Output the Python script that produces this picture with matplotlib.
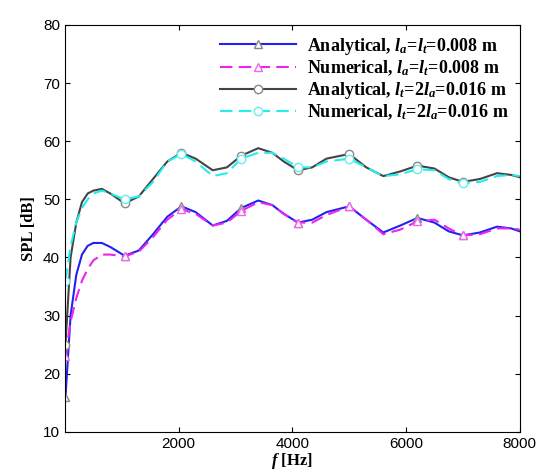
import matplotlib
matplotlib.use("Agg")
import matplotlib.pyplot as plt

freq = [10,100,200,300,400,500,650,800,1050,1300,1550,1800,2050,2300,2600,2850,3100,3400,3650,3850,4100,4350,4600,5000,5300,5600,5900,6200,6500,6750,7000,7300,7600,7850,8000]
ana1 = [16,30,37,40.5,42,42.5,42.5,41.8,40.3,41.2,44,47,48.8,47.8,45.5,46.3,48.5,49.8,49,47.5,46,46.5,47.8,48.8,46.5,44.3,45.5,46.8,46,44.5,43.8,44.3,45.3,45,44.5]
num1 = [23,29,33,36,38,39.5,40.5,40.5,40.2,41,43.5,46.5,48.3,47.5,45.5,46,48,49.5,49,47.5,46,46,47.3,48.8,46.5,44,44.8,46.2,46.5,45,43.8,44,45,45,44.8]
ana2 = [25,40,46,49.5,51,51.5,51.8,51,49.3,50.5,53.5,56.5,58,57,55,55.5,57.5,58.8,58,56.5,55,55.5,57,57.8,55.5,54,54.8,55.8,55.3,53.8,53,53.5,54.5,54.2,53.8]
num2 = [36,42,46,48.5,50,51,51.5,51,50,50.5,53,56.5,57.8,56.5,54,54.5,57,58,58,57,55.5,55.5,56.5,57,55.5,54,54.3,55.2,55,53.5,52.8,53,54,54.2,54]
labels = [r"Analytical, $\boldsymbol{l_a}$=$\boldsymbol{l_t}$=0.008 m",
          r"Numerical, $\boldsymbol{l_a}$=$\boldsymbol{l_t}$=0.008 m",
          r"Analytical, $\boldsymbol{l_t}$=2$\boldsymbol{l_a}$=0.016 m",
          r"Numerical, $\boldsymbol{l_t}$=2$\boldsymbol{l_a}$=0.016 m"]
marks = [0,8,12,16,20,23,27,30]

plt.rcParams['mathtext.fontset'] = 'custom'
plt.rcParams['mathtext.it'] = 'Liberation Serif:italic:bold'
plt.rcParams['mathtext.bf'] = 'Liberation Serif:italic:bold'
plt.rcParams['mathtext.rm'] = 'Liberation Serif:bold'

fig = plt.figure(figsize=(5.5,4.7), dpi=100)
ax = fig.add_axes([0.118, 0.081, 0.827, 0.866])
ax.plot(freq, ana1, '-', color='#2222ee', lw=1.5, marker='^', mfc='white', mec='#888888', ms=6, markevery=marks, label=labels[0])
ax.plot(freq, num1, '--', color='#ee22ee', lw=1.5, dashes=(6,3), marker='^', mfc='white', mec='#ee66ee', ms=6, markevery=marks, label=labels[1])
ax.plot(freq, ana2, '-', color='#444444', lw=1.5, marker='o', mfc='white', mec='#888888', ms=6, markevery=marks, label=labels[2])
ax.plot(freq, num2, '--', color='#22eeee', lw=1.5, dashes=(6,3), marker='o', mfc='white', mec='#66eeee', ms=6, markevery=marks, label=labels[3])
ax.set_xlim(0, 8000); ax.set_ylim(10, 80)
ax.set_xticks([2000,4000,6000,8000])
ax.set_yticks(range(10,81,10))
ax.tick_params(direction='in', top=True, right=True, labelsize=11)
for t in ax.get_xticklabels()+ax.get_yticklabels():
    t.set_family('Liberation Sans')
ax.set_xlabel(r"$\mathit{f}$ [Hz]", family='Liberation Serif', fontweight='bold', fontsize=12, labelpad=0)
ax.set_ylabel("SPL [dB]", family='Liberation Serif', fontweight='bold', fontsize=12)
ax.legend(loc='upper right', frameon=False, prop={'family':'Liberation Serif','weight':'bold','size':13},
          handlelength=4.2, labelspacing=0.1, borderaxespad=0.2, handletextpad=0.6)
fig.savefig("out.png")
